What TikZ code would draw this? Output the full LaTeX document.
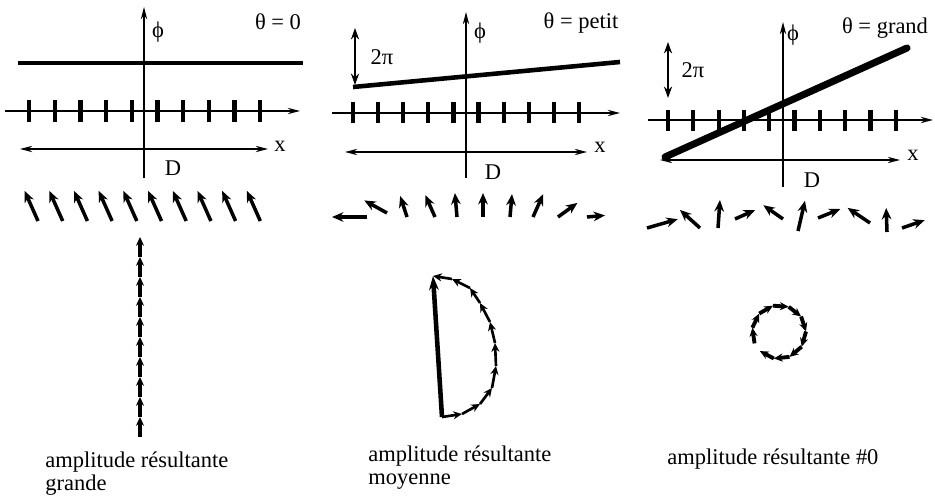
\documentclass[tikz,border=0pt]{standalone}
\usepackage{fontspec}
\setmainfont{Liberation Serif}
\usetikzlibrary{arrows.meta}
\tikzset{
  lbl/.style={font=\fontsize{12.8}{13}\selectfont, inner sep=0pt},
  axis/.style={line width=1pt, -{Stealth[length=7pt,width=3.6pt]}},
  span/.style={line width=0.9pt, {Stealth[length=7pt,width=3.6pt]}-{Stealth[length=7pt,width=3.6pt]}},
  period/.style={line width=1.4pt, {Stealth[length=6.5pt,width=4.6pt]}-{Stealth[length=6.5pt,width=4.6pt]}},
  tickmark/.style={line width=2.4pt},
  phaseline/.style={line width=#1},
  phasor/.style={line width=2pt, -{Stealth[length=6.5pt,width=5.5pt]}},
  link/.style={line width=1.9pt, -{Stealth[length=5pt,width=4.6pt]}},
  resultant/.style={line width=2.6pt, -{Stealth[length=8pt,width=5.5pt]}},
}

\begin{document}
\begin{tikzpicture}[x=0.02cm,y=0.02cm]
  \useasboundingbox (0,0) rectangle (935,-499);

  % theta = 0
  \draw[axis] (144,-178) -- (144,-7);
  \node[lbl] (phi1) at (158,-32) {ϕ};
  \node[lbl] (theta1) at (278,-22) {θ = 0};
  \draw[phaseline=2.3pt] (18,-63) -- (303,-63);
  \draw[axis] (5,-111) -- (300,-111);
  \foreach \k in {0,...,9}{\draw[tickmark] ({29+25.7*\k},-100) -- ++(0,-22);}
  \draw[span] (20,-149) -- (268,-149);
  \node[lbl] (x1) at (280,-146) {x};
  \node[lbl] (d1) at (173,-168) {D};
  \foreach \k in {0,...,9}{\draw[phasor] ({38+24.7*\k},-221) -- ++(114:33);}
  \foreach \k in {0,...,9}{\draw[link,line width=2.2pt] (140,{-437+20*\k}) -- ++(0,20);}
  \node[lbl,anchor=north west,align=left] (res1) at (45,-452) {amplitude résultante\\grande};

  % theta = petit
  \draw[axis] (466,-178) -- (466,-12);
  \node[lbl] (phi2) at (480,-33) {ϕ};
  \node[lbl] (theta2) at (581,-23) {θ = petit};
  \draw[period] (355,-85) -- (355,-28);
  \node[lbl] (pi2) at (382,-57) {2π};
  \draw[phaseline=2.6pt] (353,-87) -- (620,-62);
  \draw[axis] (332,-113) -- (620,-113);
  \foreach \k in {0,...,9}{\draw[tickmark] ({353+25.1*\k},-102) -- ++(0,-21);}
  \draw[span] (345,-152) -- (587,-152);
  \node[lbl] (x2) at (600,-147) {x};
  \node[lbl] (d2) at (493,-172) {D};
  \foreach \x/\y/\a/\l in {367/217/180/35, 387/213/151/26, 407/217/108/22, 435/217/114/24,
      457/217/95/24, 483/217/90/24, 510/217/85/23, 533/217/66/25, 558/217/36/24, 587/217/5/18}
    {\draw[phasor] (\x,-\y) -- ++(\a:\l);}
  \foreach \x/\y [count=\i from 0] in {442/417, 462/414, 480/404, 492/388, 496/366,
      495/343, 490/322, 480/303, 470/288, 452/279, 433/276}
    {\coordinate (c\i) at (\x,-\y);}
  \foreach \i [count=\j] in {0,...,9}{\draw[link,line width=1.5pt] (c\i) -- (c\j);}
  \draw[resultant] (c0) -- (c10);
  \node[lbl,anchor=north west,align=left] (res2) at (368,-446) {amplitude résultante\\moyenne};

  % theta = grand
  \draw[axis] (783,-187) -- (783,-22);
  \node[lbl] (phi3) at (793,-35) {ϕ};
  \node[lbl] (theta3) at (885,-28) {θ = grand};
  \draw[period] (668,-98) -- (668,-42);
  \node[lbl] (pi3) at (693,-70) {2π};
  \draw[axis] (648,-120) -- (933,-120);
  \foreach \k in {0,...,9}{\draw[tickmark] ({668+25.3*\k},-110) -- ++(0,-21);}
  \draw[span] (660,-160) -- (900,-160);
  \draw[phaseline=4pt,line cap=round] (665,-157) -- (907,-48);
  \node[lbl] (x3) at (913,-155) {x};
  \node[lbl] (d3) at (812,-180) {D};
  \foreach \x/\y/\a/\l in {647/228/16/32, 700/228/138/27, 718/228/86/28, 735/219/24/22,
      783/219/145/24, 798/231/77/31, 818/218/22/24, 870/223/146/27, 887/232/92/24, 902/228/19/24}
    {\draw[phasor] (\x,-\y) -- ++(\a:\l);}
  \coordinate (ring) at (779,-332);
  \foreach \k in {0,...,9}
    {\draw[link,line width=2.2pt] ([shift={({205-34*\k}:27)}]ring) -- ([shift={({171-34*\k}:27)}]ring);}
  \node[lbl,anchor=north west] (res3) at (667,-449) {amplitude résultante \#0};
\end{tikzpicture}
\end{document}
